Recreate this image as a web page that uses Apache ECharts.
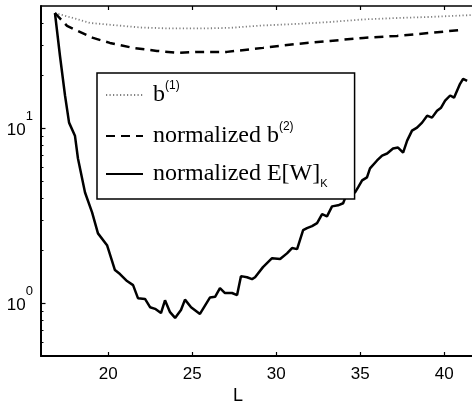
<!DOCTYPE html>
<html>
<head>
<meta charset="utf-8">
<script src="https://cdn.jsdelivr.net/npm/echarts@6/dist/echarts.min.js"></script>
<style>
html,body{margin:0;padding:0;background:#fff;}
#chart{width:472px;height:406px;}
</style>
</head>
<body>
<div id="chart"></div>
<script>
// ---- data ----
const solidL = [16.83,17.13,17.43,17.67,18.02,18.2,18.62,19.04,19.39,19.93,20.4,20.7,21.12,21.48,21.77,22.19,22.49,22.79,23.14,23.38,23.68,23.98,24.33,24.57,24.93,25.46,26.06,26.36,26.65,26.95,27.37,27.67,27.9,28.26,28.56,28.74,29.21,29.75,30.23,30.64,30.94,31.24,31.6,31.83,32.13,32.43,32.73,33.02,33.32,33.68,33.98,34.21,34.69,34.87,35.11,35.4,35.58,36.0,36.3,36.6,36.95,37.25,37.55,37.79,38.08,38.38,38.68,38.98,39.27,39.57,39.81,40.05,40.35,40.58,40.94,41.12,41.36];
const solidY = [45.6,25.9,15.4,10.78,9.08,6.72,4.30,3.31,2.51,2.15,1.55,1.47,1.34,1.27,1.07,1.06,0.95,0.93,0.88,1.04,0.89,0.825,0.916,1.05,0.95,0.87,1.08,1.09,1.22,1.145,1.145,1.115,1.43,1.41,1.375,1.41,1.61,1.81,1.79,1.93,2.07,2.04,2.62,2.69,2.76,2.87,3.23,3.14,3.58,3.63,3.73,4.25,4.30,4.60,5.04,5.24,5.90,6.55,6.99,7.18,7.66,7.76,7.27,8.51,9.70,10.09,10.78,11.81,11.51,12.61,13.12,14.38,15.4,14.96,17.97,19.19,18.69];

const dashL = [16.83,17.55,19.1,20.1,21.48,22.9,24.1,25.46,27.07,29.21,31.24,33.2,35.17,37.19,39.15,40.94];
const dashY = [45.6,38.45,32.85,30.76,28.82,27.7,26.98,27.34,27.34,28.82,30.37,31.58,32.85,33.73,35.08,36.48];

const dotL = [16.83,17.9,18.92,19.93,21.89,23.68,25.46,27.25,29.21,31.24,33.2,35.17,37.19,39.15,41.65];
const dotY = [45.6,42.7,40.0,39.2,37.7,37.2,37.2,37.5,38.7,39.5,40.5,41.9,42.7,43.3,44.4];

const seriesNames = ['b(1)', 'normalized b(2)', 'normalized E[W]K'];
const xTickValues = [20, 25, 30, 35, 40];
const yMajorTicks = [1, 10];
const yMinorTicks = [0.6,0.7,0.8,0.9,2,3,4,5,6,7,8,9,20,30,40];
const xAxisTitle = 'L';

// ---- chart ----
const SANS = "'Liberation Sans',Arial,Helvetica,sans-serif";
const SERIF = "'Liberation Serif','Times New Roman',serif";
const zip = (a, b) => a.map((v, i) => [v, b[i]]);

const chart = echarts.init(document.getElementById('chart'), null, {renderer: 'canvas'});

const xMin = 16, xMax = 41.65, yMin = 0.5, yMax = 50;

const legendRich = {
  m: {fontFamily: SERIF, fontSize: 24, lineHeight: 30, color: '#000', padding: [0,0,0,5]},
  s: {fontFamily: SANS, fontSize: 12, lineHeight: 15, verticalAlign: 'top', color: '#000'},
  k: {fontFamily: SANS, fontSize: 11, lineHeight: 15, verticalAlign: 'bottom', color: '#000'}
};
const legendText = {
  'b(1)': '{m|b}{s|(1)}',
  'normalized b(2)': '{m|normalized b}{s|(2)}',
  'normalized E[W]K': '{m|normalized E[W]}{k|K}'
};

const option = {
  animation: false,
  backgroundColor: '#fff',
  grid: {left: 41, top: 6, right: 0, bottom: 50, containLabel: false},
  xAxis: [
    {
      type: 'value', position: 'bottom', min: xMin, max: xMax,
      axisLine: {show: true, lineStyle: {color: '#000', width: 2}},
      axisTick: {show: true, inside: true, length: 4, customValues: xTickValues, lineStyle: {color: '#000', width: 1.2}},
      axisLabel: {show: true, customValues: xTickValues, margin: 10, color: '#000', fontFamily: SANS, fontSize: 17},
      splitLine: {show: false}
    },
    {
      type: 'value', position: 'top', min: xMin, max: xMax,
      axisLine: {show: true, lineStyle: {color: '#000', width: 1.5}},
      axisTick: {show: true, inside: true, length: 4, customValues: xTickValues, lineStyle: {color: '#000', width: 1.2}},
      axisLabel: {show: false},
      splitLine: {show: false}
    }
  ],
  yAxis: [
    {
      type: 'log', logBase: 10, min: yMin, max: yMax, position: 'left',
      axisLine: {show: true, lineStyle: {color: '#000', width: 2}},
      axisTick: {show: true, inside: true, length: 4.5, customValues: yMajorTicks, lineStyle: {color: '#000', width: 1.2}},
      axisLabel: {
        show: true, customValues: yMajorTicks, margin: 8,
        formatter: v => '{a|10}{b|' + Math.round(Math.log10(v)) + '}',
        rich: {
          a: {fontFamily: SANS, fontSize: 17, lineHeight: 40, padding: [4,0,0,0], color: '#000'},
          b: {fontFamily: SANS, fontSize: 13, lineHeight: 13, padding: [2,0,0,0], verticalAlign: 'top', color: '#000'}
        }
      },
      splitLine: {show: false}
    },
    {
      type: 'log', logBase: 10, min: yMin, max: yMax, position: 'left',
      axisLine: {show: false},
      axisTick: {show: true, inside: true, length: 2.5, customValues: yMinorTicks, lineStyle: {color: '#000', width: 1}},
      axisLabel: {show: false},
      splitLine: {show: false}
    }
  ],
  legend: {
    orient: 'vertical', left: 97, top: 73,
    itemWidth: 37, itemHeight: 30, itemGap: 14,
    padding: [7, 27, 10, 8],
    borderColor: '#000', borderWidth: 1.5, backgroundColor: '#fff', borderRadius: 0,
    selectedMode: false, align: 'left',
    itemStyle: {opacity: 0},
    data: seriesNames,
    formatter: name => legendText[name],
    textStyle: {rich: legendRich}
  },
  graphic: [
    {type: 'text', left: 233, top: 387, style: {text: xAxisTitle, font: "18px 'Liberation Sans',Arial,sans-serif", fill: '#000'}}
  ],
  series: [
    {
      name: seriesNames[0], type: 'line', data: zip(dotL, dotY), symbol: 'none', smooth: false, clip: true,
      lineStyle: {color: '#808080', width: 1.8, type: [1.2, 2.3]}, itemStyle: {color: '#808080'}
    },
    {
      name: seriesNames[1], type: 'line', data: zip(dashL, dashY), symbol: 'none', smooth: false, clip: true,
      lineStyle: {color: '#000', width: 2.5, type: [9, 6]}, itemStyle: {color: '#000'}
    },
    {
      name: seriesNames[2], type: 'line', data: zip(solidL, solidY), symbol: 'none', smooth: false, clip: true,
      lineStyle: {color: '#000', width: 2.5, type: 'solid'}, itemStyle: {color: '#000'}
    }
  ]
};
chart.setOption(option);
</script>
</body>
</html>
